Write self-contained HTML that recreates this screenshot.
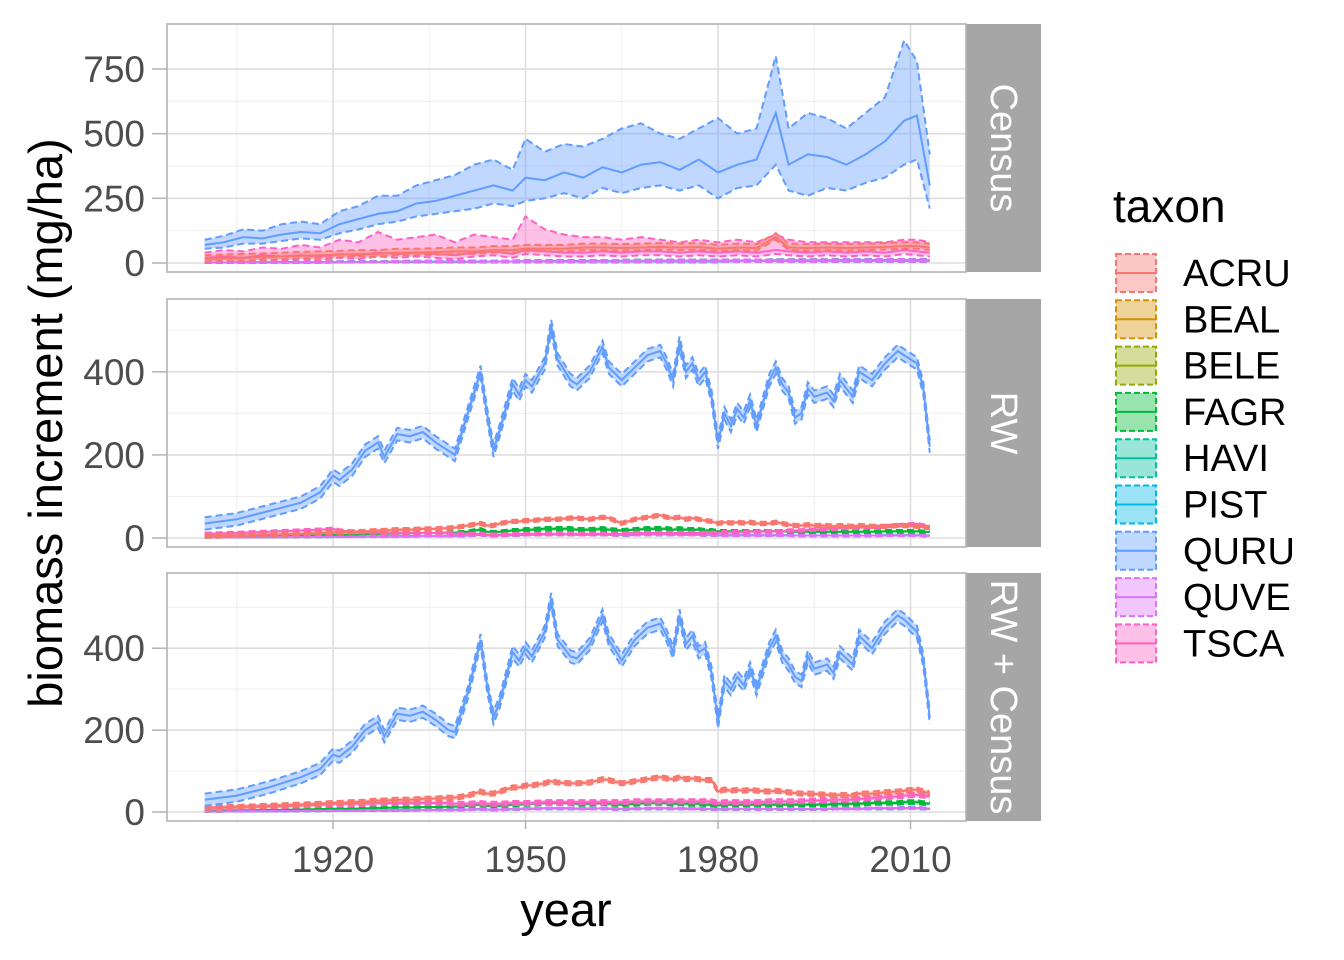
<!DOCTYPE html>
<html><head><meta charset="utf-8"><style>
body{margin:0;background:#fff;}
svg{display:block;font-family:"Liberation Sans",Arial,sans-serif;}
</style></head><body>
<svg id="chart" width="1344" height="960"></svg>
<script>
const taxa=["ACRU","BEAL","BELE","FAGR","HAVI","PIST","QURU","QUVE","TSCA"];
const colors=["#F8766D","#D39200","#93AA00","#00BA38","#00C19F","#00B9E3","#619CFF","#DB72FB","#FF61C3"];
const panelNames=["Census","RW","RW + Census"];
const xTicks=[1920,1950,1980,2010];
const yTicks1=[0,250,500,750];
const yTicks2=[0,200,400];
const yTicks3=[0,200,400];
// Census QURU
const cenYears=[1900,1903,1906,1909,1912,1915,1918,1921,1924,1927,1930,1933,1936,1939,1942,1945,1948,1950,1953,1956,1959,1962,1965,1968,1971,1974,1977,1980,1983,1986,1989,1991,1994,1997,2000,2003,2006,2009,2011,2013];
const cenQuru=[70,80,100,95,110,120,115,150,170,190,200,230,240,260,280,300,280,330,320,350,330,370,350,380,390,360,400,350,380,400,580,380,420,410,380,420,470,550,570,300];
const cenQuruLo=[55,60,75,75,85,95,90,115,130,150,160,180,190,200,210,230,220,240,250,270,250,290,270,290,300,280,300,250,290,300,380,280,260,290,280,310,330,380,400,210];
const cenQuruHi=[90,105,130,125,150,160,150,200,220,260,260,300,320,340,380,400,360,480,430,460,450,480,520,540,500,480,520,560,500,520,800,520,580,560,520,580,640,860,780,420];
const cenTsca=[20,25,20,30,25,30,25,35,30,40,35,40,35,30,40,45,35,50,45,40,40,45,40,45,45,40,45,40,45,40,50,45,40,45,40,45,40,50,45,40];
const cenTscaHi=[40,50,45,60,55,70,60,90,80,120,90,100,110,80,110,100,90,180,130,110,100,100,90,100,90,80,90,80,90,80,110,90,80,80,80,80,80,90,90,80];
const cenAcru=[15,18,20,22,25,28,30,32,35,35,40,40,42,45,45,50,50,55,55,55,60,60,58,60,62,60,62,55,60,58,100,60,58,60,58,60,62,65,65,60];
const cenOther=[5,5,6,6,7,8,8,9,10,10,11,12,12,13,13,14,14,15,15,16,16,16,17,17,18,18,18,18,19,19,20,20,20,20,21,21,22,22,22,20];
// RW QURU
const rwYears=[1900,1905,1910,1915,1918,1920,1921,1923,1925,1927,1928,1930,1932,1934,1936,1938,1939,1941,1943,1944,1945,1946,1948,1949,1950,1951,1953,1954,1955,1957,1958,1960,1962,1963,1965,1967,1969,1971,1972,1973,1974,1975,1976,1977,1978,1979,1980,1981,1982,1983,1984,1985,1986,1988,1989,1990,1991,1992,1993,1994,1995,1997,1998,1999,2001,2002,2004,2006,2008,2009,2011,2012,2013];
const rwQuru=[35,45,65,85,110,150,140,165,210,230,195,250,245,255,230,210,200,300,400,300,210,260,370,345,380,365,420,510,430,380,370,400,460,410,380,410,440,450,420,380,470,400,420,380,400,340,230,300,270,310,290,330,270,380,410,370,350,290,300,360,340,350,330,380,340,400,380,420,450,440,420,360,220];
const rwAcru=[5,6,8,10,12,14,14,15,16,18,18,20,20,22,22,24,25,30,35,30,30,35,40,40,42,42,45,45,45,48,48,45,50,48,35,45,50,55,50,48,50,45,48,45,42,40,35,38,36,38,36,38,35,35,38,35,32,30,30,32,30,30,28,30,28,30,28,28,30,30,28,26,25];
const rwTsca=[10,12,15,18,20,22,18,15,14,13,12,12,12,12,12,12,10,10,10,8,8,8,9,10,10,10,10,10,10,10,10,10,10,10,10,12,12,12,12,12,12,12,12,12,12,12,12,14,14,14,14,15,15,16,16,16,18,18,18,20,20,22,22,24,24,25,26,28,30,32,34,30,28];
const rwOther=[3,4,5,6,7,8,8,8,9,10,10,11,11,12,12,13,13,15,20,15,14,15,18,18,20,20,22,22,22,22,20,20,22,20,18,20,22,22,22,20,22,20,20,20,18,18,16,16,16,16,16,16,16,16,16,16,16,15,15,15,15,15,15,15,15,15,15,16,16,16,16,15,14];
// RW + Census QURU
const rcQuru=[30,40,60,85,105,140,135,160,200,220,185,240,235,245,225,200,195,290,420,310,230,270,390,370,400,380,440,520,420,380,375,410,480,420,370,420,450,460,430,390,480,410,430,390,400,340,220,320,300,330,310,350,300,400,430,380,360,330,320,380,350,360,340,390,360,430,400,450,480,470,440,370,230];
const rcAcru=[10,12,15,18,20,22,22,24,25,28,28,30,30,32,33,35,35,40,50,45,45,50,60,60,65,65,70,75,72,70,70,72,80,78,70,75,80,85,82,80,85,80,82,80,78,78,50,55,52,54,52,54,52,50,52,50,48,46,45,45,44,42,40,42,40,45,45,48,50,52,55,50,45];
const rcTsca=[10,12,14,16,18,20,20,20,20,22,22,22,22,22,22,22,20,20,22,20,20,20,22,22,22,22,24,24,24,24,24,24,24,24,24,26,26,26,26,26,26,26,26,26,26,26,22,24,24,24,24,24,24,26,26,26,26,26,26,28,28,28,30,30,30,32,34,36,38,40,42,40,38];
const rcOther=[3,4,5,6,7,8,8,8,9,10,10,11,11,12,12,13,13,15,18,15,14,15,18,18,20,20,22,22,22,22,20,20,22,20,18,20,22,22,22,20,22,20,20,20,18,18,16,18,18,18,18,18,18,18,18,18,18,18,18,18,18,18,20,20,20,20,22,22,22,24,24,22,20];

const NS="http://www.w3.org/2000/svg";
const svg=document.getElementById("chart");
function mk(tag,attrs,parent){const e=document.createElementNS(NS,tag);for(const k in attrs)e.setAttribute(k,attrs[k]);(parent||svg).appendChild(e);return e;}
const X0=167,X1=966;
function xs(y){return 333+(y-1920)*6.417;}
const panels=[
 {top:24,bot:272,zero:263,k:0.2587,ticks:yTicks1,minor:[125,375,625]},
 {top:299,bot:547,zero:538,k:0.4155,ticks:yTicks2,minor:[100,300,500]},
 {top:573,bot:821,zero:812,k:0.4095,ticks:yTicks3,minor:[100,300,500]}];
panels.forEach((p,i)=>{
 p.ys=v=>p.zero-v*p.k;
 const g=mk("g",{});
 
 
 p.g=g;
 [1905,1935,1965,1995].forEach(y=>mk("line",{x1:xs(y),x2:xs(y),y1:p.top,y2:p.bot,stroke:"#EFEFEF","stroke-width":1},g));
 p.minor.forEach(v=>{if(p.ys(v)>p.top)mk("line",{x1:X0,x2:X1,y1:p.ys(v),y2:p.ys(v),stroke:"#EFEFEF","stroke-width":1},g);});
 xTicks.forEach(y=>mk("line",{x1:xs(y),x2:xs(y),y1:p.top,y2:p.bot,stroke:"#DEDEDE","stroke-width":1.6},g));
 p.ticks.forEach(v=>{mk("line",{x1:X0,x2:X1,y1:p.ys(v),y2:p.ys(v),stroke:"#DEDEDE","stroke-width":1.6},g);
   const t=mk("text",{x:145,y:p.ys(v)+13,"text-anchor":"end","font-size":37,fill:"#4D4D4D"},g);t.textContent=v;
   
   mk("line",{x1:152,x2:X0,y1:p.ys(v),y2:p.ys(v),stroke:"#B3B3B3","stroke-width":1.5},g);});
 const s=mk("rect",{x:966,y:p.top,width:75,height:p.bot-p.top,fill:"#A6A6A6"},g);
 
 const cx=1003,cy=(p.top+p.bot)/2;
 const st=mk("text",{x:cx,y:cy,transform:`rotate(90 ${cx} ${cy})`,"text-anchor":"middle","dominant-baseline":"central","font-size":38,fill:"#fff"},g);
 st.textContent=panelNames[i];
});
function series(p,years,mean,lo,hi,color,name){
 const g=mk("g",{},p.g);
 
 
 const up=years.map((y,i)=>xs(y)+","+p.ys(hi[i]));
 const dn=years.map((y,i)=>xs(y)+","+p.ys(lo[i])).reverse();
 mk("polygon",{points:up.concat(dn).join(" "),fill:color,"fill-opacity":0.4},g);
 const line=(arr,dash)=>mk("polyline",{points:years.map((y,i)=>xs(y)+","+p.ys(arr[i])).join(" "),fill:"none",stroke:color,"stroke-width":2,"stroke-dasharray":dash||"none"},g);
 line(hi,"7,4");line(lo,"7,4");line(mean);
}
const sp=(a,d)=>a.map(v=>v+d), sm=(a,d)=>a.map(v=>Math.max(0,v-d));
let P=panels[0];
[1,2,3,4,5,7].forEach(t=>series(P,cenYears,cenOther.map(v=>v*0.4),cenOther.map(v=>v*0.2),cenOther.map(v=>v*0.7),colors[t],taxa[t]));
series(P,cenYears,cenTsca,sm(cenTsca,15),cenTscaHi,colors[8],"TSCA");
series(P,cenYears,cenAcru,sm(cenAcru,10),sp(cenAcru,15),colors[0],"ACRU");
series(P,cenYears,cenQuru,cenQuruLo,cenQuruHi,colors[6],"QURU");
P=panels[1];
[1,2,3,4,5,7].forEach(t=>series(P,rwYears,rwOther.map(v=>v*(t==3?1:0.4)),rwOther.map(v=>v*(t==3?0.8:0.3)),rwOther.map(v=>v*(t==3?1.2:0.5)),colors[t],taxa[t]));
series(P,rwYears,rwTsca,sm(rwTsca,3),sp(rwTsca,3),colors[8],"TSCA");
series(P,rwYears,rwAcru,sm(rwAcru,4),sp(rwAcru,4),colors[0],"ACRU");
series(P,rwYears,rwQuru,sm(rwQuru,15),sp(rwQuru,15),colors[6],"QURU");
P=panels[2];
[1,2,3,4,5,7].forEach(t=>series(P,rwYears,rcOther.map(v=>v*(t==3?1:0.4)),rcOther.map(v=>v*(t==3?0.8:0.3)),rcOther.map(v=>v*(t==3?1.2:0.5)),colors[t],taxa[t]));
series(P,rwYears,rcTsca,sm(rcTsca,5),sp(rcTsca,5),colors[8],"TSCA");
series(P,rwYears,rcAcru,sm(rcAcru,5),sp(rcAcru,5),colors[0],"ACRU");
series(P,rwYears,rcQuru,sm(rcQuru,15),sp(rcQuru,15),colors[6],"QURU");
panels.forEach(p=>mk("rect",{x:X0,y:p.top,width:X1-X0,height:p.bot-p.top,fill:"none",stroke:"#B3B3B3","stroke-width":1.6},p.g));
xTicks.forEach(y=>{mk("line",{x1:xs(y),x2:xs(y),y1:821,y2:829,stroke:"#B3B3B3","stroke-width":1.5});
 const t=mk("text",{x:xs(y),y:872,"text-anchor":"middle","font-size":37,fill:"#4D4D4D"});t.textContent=y;
 });
let t=mk("text",{x:566,y:926,"text-anchor":"middle","font-size":47,fill:"#000"});t.textContent="year";

t=mk("text",{x:62,y:423,"text-anchor":"middle","font-size":47,fill:"#000",transform:"rotate(-90 62 423)"});t.textContent="biomass increment (mg/ha)";

t=mk("text",{x:1113,y:222,"font-size":46,fill:"#000"});t.textContent="taxon";

taxa.forEach((n,i)=>{const cy=273+i*46.3;
 const g=mk("g",{});
 mk("rect",{x:1116,y:cy-19,width:40,height:38,fill:colors[i],"fill-opacity":0.4,stroke:colors[i],"stroke-width":2,"stroke-dasharray":"6,3"},g);
 mk("line",{x1:1116,x2:1156,y1:cy,y2:cy,stroke:colors[i],"stroke-width":2},g);
 const l=mk("text",{x:1183,y:cy+13,"font-size":38,fill:"#000"},g);l.textContent=n;});
</script>
</body></html>
